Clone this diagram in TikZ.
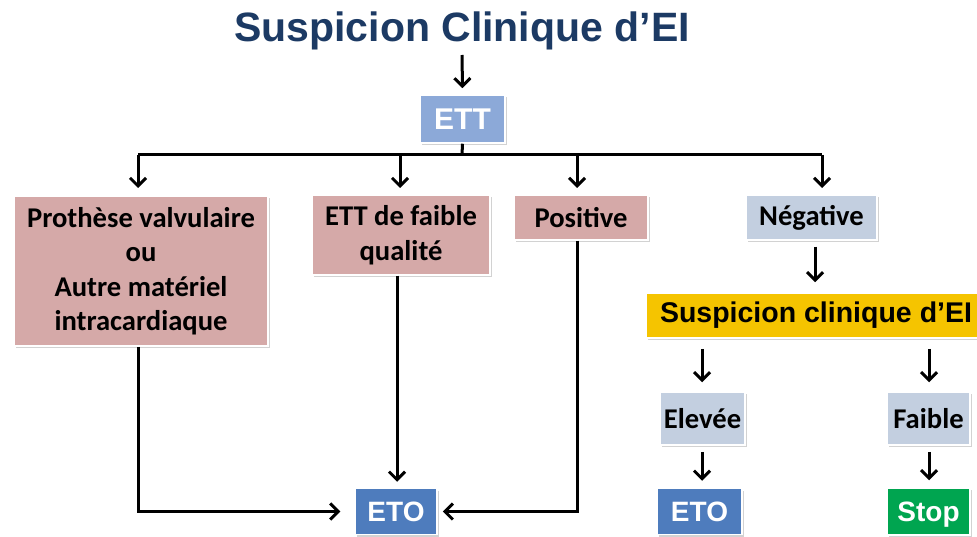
\documentclass[tikz,border=0pt]{standalone}
\usepackage{fontspec}
\setmainfont{Liberation Sans}
\newfontfamily\calib{Carlito}
\usetikzlibrary{arrows.meta,shadows,calc}
\definecolor{titleblue}{HTML}{1C3A64}
\definecolor{pinkbox}{HTML}{D5A9A8}
\definecolor{greybox}{HTML}{C3CFE0}
\definecolor{ettblue}{HTML}{8CA9D8}
\definecolor{etoblue}{HTML}{4E7CBD}
\definecolor{yelbox}{HTML}{F5C400}
\definecolor{stopgreen}{HTML}{00A550}
\tikzset{
  box/.style={draw=white, line width=1.5pt, inner sep=0pt, align=center,
    drop shadow={opacity=0.35, shadow xshift=2pt, shadow yshift=-2pt}},
  pinkb/.style={box, fill=pinkbox, font=\calib\bfseries\fontsize{28.6}{34.5}\selectfont},
  greyb/.style={box, fill=greybox, font=\calib\bfseries\fontsize{28.6}{34.5}\selectfont},
  whiteb/.style={box, text=white, font=\bfseries\fontsize{30}{34}\selectfont, text height=21pt, text depth=0pt},
  conn/.style={line width=3pt, draw=black},
  arr/.style={conn, -{Straight Barb[length=8pt,width=16pt,line width=3pt]}},
}
\begin{document}
\begin{tikzpicture}[x=1pt,y=-1pt]
\useasboundingbox (0,0) rectangle (977,537);
\fill[white] (0,0) rectangle (977,537);
\clip (0,0) rectangle (977,537);
% nodes
\node[font=\bfseries\fontsize{41}{45}\selectfont, text=titleblue] (title) at (462,31) {Suspicion Clinique d’EI};
\node[whiteb, fill=ettblue, minimum width=85pt, minimum height=48pt] (ett) at (462.5,119) {ETT};
\node[pinkb, minimum width=254pt, minimum height=150pt] (pro) at (141,271) {Prothèse valvulaire\\ou\\Autre matériel\\intracardiaque};
\node[pinkb, minimum width=178pt, minimum height=80pt] (faible) at (401,235) {ETT de faible\\qualité};
\node[pinkb, minimum width=134pt, minimum height=45pt] (pos) at (581,217.5) {Positive};
\node[greyb, minimum width=131pt, minimum height=45pt] (neg) at (811.5,217.5) {Négative};
\node[box, fill=yelbox, minimum width=340pt, minimum height=45pt, font=\bfseries\fontsize{28.5}{32}\selectfont] (susp) at (816,315.5) {Suspicion clinique d’EI};
\node[greyb, minimum width=85pt, minimum height=53pt] (elev) at (702.5,418.5) {Elevée};
\node[greyb, minimum width=83pt, minimum height=53pt] (faib) at (928.5,418.5) {Faible};
\node[whiteb, fill=etoblue, minimum width=82pt, minimum height=46pt, font=\bfseries\fontsize{28}{30}\selectfont, text height=20pt] (eto1) at (396,511.5) {ETO};
\node[whiteb, fill=etoblue, minimum width=85pt, minimum height=46pt, font=\bfseries\fontsize{28}{30}\selectfont, text height=20pt] (eto2) at (699.5,511.5) {ETO};
\node[whiteb, fill=stopgreen, minimum width=83pt, minimum height=47pt, font=\bfseries\fontsize{28}{30}\selectfont, text height=20pt] (stop) at (928.5,511.5) {Stop};
% coordinates
\coordinate (bus) at (462,155);
\coordinate (d1) at (138,155);
\coordinate (d2) at (400,155);
\coordinate (d3) at (577,155);
\coordinate (d4) at (822,155);
% connectors
\draw[arr] (462,55) -- ($(ett.north)+(0,-6)$);
\draw[conn] (ett.south) -- (bus);
\draw[conn] (d1) -- (d4);
\draw[arr] (d1) -- (d1 |- 0,188);
\draw[arr] (d2) -- (d2 |- 0,188);
\draw[arr] (d3) -- (d3 |- 0,188);
\draw[arr] (d4) -- (d4 |- 0,188);
\draw[arr] (pro.south -| d1) |- ($(eto1.west)+(-14,0)$);
\draw[arr] (faible.south -| 397,0) -- ($(eto1.north -| 397,0)+(0,-6)$);
\draw[arr] (pos.south -| d3) |- ($(eto1.east)+(5,0)$);
\draw[arr] ($(neg.south -| 815,0)+(0,6)$) -- ($(susp.north -| 815,0)+(0,-10)$);
\draw[arr] ($(susp.south -| 702,0)+(0,10)$) -- ($(elev.north -| 702,0)+(0,-9)$);
\draw[arr] ($(susp.south -| 929,0)+(0,10)$) -- ($(faib.north -| 929,0)+(0,-9)$);
\draw[arr] ($(elev.south -| 702,0)+(0,6)$) -- ($(eto2.north -| 702,0)+(0,-7)$);
\draw[arr] ($(faib.south -| 929,0)+(0,6)$) -- ($(stop.north -| 929,0)+(0,-7)$);
\end{tikzpicture}
\end{document}
